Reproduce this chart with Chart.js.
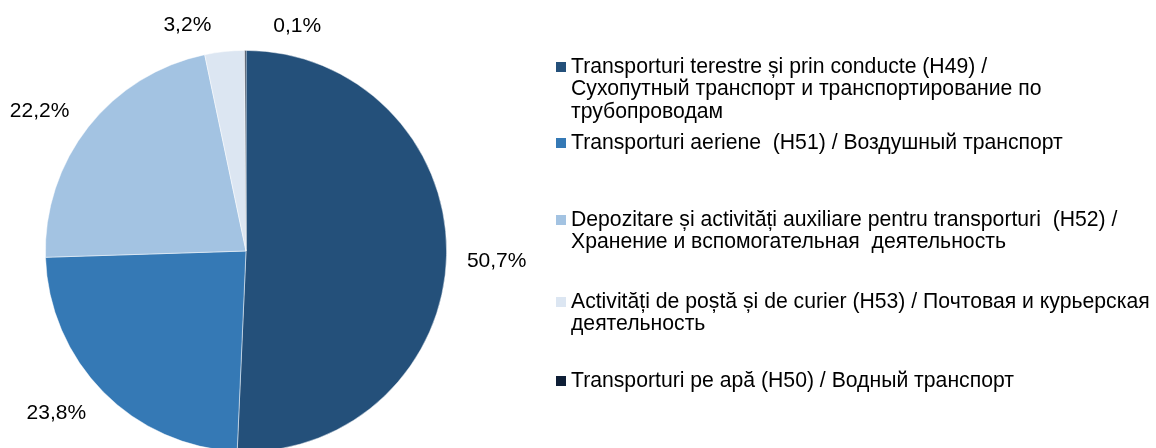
<!DOCTYPE html>
<html><head><meta charset="utf-8">
<script src="https://cdn.jsdelivr.net/npm/chart.js@4/dist/chart.umd.min.js"></script>
<style>
html,body{margin:0;padding:0;background:#fff;overflow:hidden;}
#wrap{position:relative;width:1156px;height:448px;overflow:hidden;}
#c{position:absolute;left:0;top:0;}
</style></head>
<body>
<div id="wrap"><canvas id="c" width="1156" height="460"></canvas></div>
<script>
const categories = [
  ["Transporturi terestre și prin conducte (H49) /", "Сухопутный транспорт и транспортирование по", "трубопроводам"],
  ["Transporturi aeriene  (H51) / Воздушный транспорт"],
  ["Depozitare și activități auxiliare pentru transporturi  (H52) /", "Хранение и вспомогательная  деятельность"],
  ["Activități de poștă și de curier (H53) / Почтовая и курьерская", "деятельность"],
  ["Transporturi pe apă (H50) / Водный транспорт"]
];
const values = [50.7, 23.8, 22.2, 3.2, 0.1];
const valueLabels = ["50,7%", "23,8%", "22,2%", "3,2%", "0,1%"];
const colors = ["#24507A", "#3579B5", "#A3C3E2", "#DCE6F2", "#0E1E36"];

const labelRadiusFactor = 1.245;
const labelNudges = [[1,5],[-12,-13],[-10,15],[-32,23],[52,25]];
const legendRowY = [67, 143, 220, 302, 381];
const FONT = '"Liberation Sans", Arial, sans-serif';

const pieLabels = {
  id: 'pieLabels',
  afterDatasetsDraw(chart) {
    const ctx = chart.ctx;
    const meta = chart.getDatasetMeta(0);
    ctx.save();
    ctx.font = '21px ' + FONT;
    ctx.fillStyle = '#000';
    ctx.textAlign = 'center';
    ctx.textBaseline = 'middle';
    meta.data.forEach((arc, i) => {
      const p = arc.getProps(['x','y','startAngle','endAngle','outerRadius'], true);
      const mid = (p.startAngle + p.endAngle) / 2;
      const r = p.outerRadius * labelRadiusFactor;
      const x = p.x + Math.cos(mid) * r + labelNudges[i][0];
      const y = p.y + Math.sin(mid) * r + labelNudges[i][1];
      ctx.fillText(valueLabels[i], x, y);
    });
    ctx.restore();
  }
};

const sideLegend = {
  id: 'sideLegend',
  afterDraw(chart) {
    const ctx = chart.ctx;
    ctx.save();
    ctx.font = '21.2px ' + FONT;
    ctx.textBaseline = 'middle';
    ctx.textAlign = 'left';
    const lh = 22.5;
    categories.forEach((lines, i) => {
      const y0 = legendRowY[i];
      ctx.fillStyle = colors[i];
      ctx.fillRect(556, y0 - 5, 10, 10);
      ctx.fillStyle = '#000';
      lines.forEach((t, j) => ctx.fillText(t, 571, y0 + j * lh));
    });
    ctx.restore();
  }
};

new Chart(document.getElementById('c'), {
  type: 'pie',
  data: {
    labels: categories.map(l => l.join(' ')),
    datasets: [{
      data: values,
      backgroundColor: colors,
      borderColor: 'rgba(255,255,255,0.6)',
      borderWidth: 0.8
    }]
  },
  options: {
    responsive: false,
    animation: false,
    devicePixelRatio: 1,
    layout: { padding: { left: 45, right: 709, top: 50, bottom: 8 } },
    plugins: { legend: { display: false }, tooltip: { enabled: false } }
  },
  plugins: [pieLabels, sideLegend]
});
</script>
</body></html>
